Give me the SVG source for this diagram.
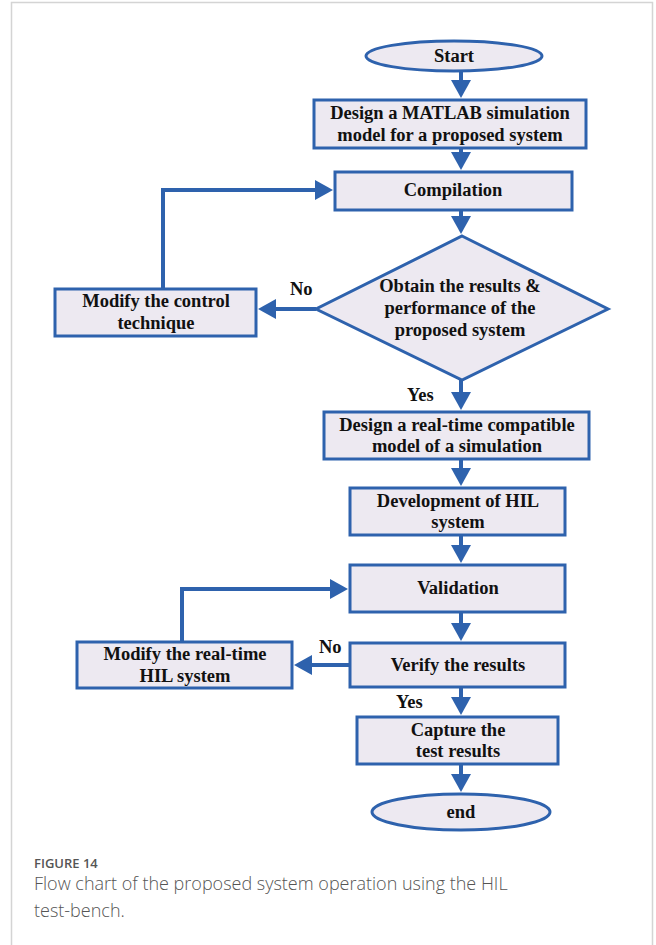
<svg xmlns="http://www.w3.org/2000/svg" width="656" height="945" viewBox="0 0 656 945">
  <style>
    .box { fill: #ede9f1; stroke: #2e62ad; stroke-width: 3; }
    .lbl { font-family: "Liberation Serif", "Times New Roman", serif; font-weight: bold; font-size: 18.5px; fill: #111; text-anchor: middle; }
    .tag { font-family: "Liberation Serif", "Times New Roman", serif; font-weight: bold; font-size: 18.5px; fill: #111; }
    .flow { fill: none; stroke: #2e62ad; stroke-width: 4; }
    .cap { font-family: "Open Sans", "Noto Sans", sans-serif; fill: #555; }
  </style>
  <defs>
    <marker id="head" viewBox="0 0 18 20" refX="2" refY="10" markerWidth="18" markerHeight="20" markerUnits="userSpaceOnUse" orient="auto">
      <path d="M0,0 L18,10 L0,20 z" fill="#2e62ad"/>
    </marker>
  </defs>

  <rect width="656" height="945" fill="#fff"/>
  <!-- figure frame -->
  <path d="M11.5,945 V2.5 H652.5 V945" fill="none" stroke="#d4d4d4" stroke-width="1.5"/>

  <g id="connectors">
    <path class="flow" d="M461,69 V82" marker-end="url(#head)"/>
    <path class="flow" d="M461,148 V154" marker-end="url(#head)"/>
    <path class="flow" d="M461,210 V218" marker-end="url(#head)"/>
    <path class="flow" d="M316,309 H274" marker-end="url(#head)"/>
    <path class="flow" d="M163,289 V190 H317" marker-end="url(#head)"/>
    <path class="flow" d="M461,380 V394" marker-end="url(#head)"/>
    <path class="flow" d="M461,459 V470" marker-end="url(#head)"/>
    <path class="flow" d="M461,535 V547" marker-end="url(#head)"/>
    <path class="flow" d="M461,612 V625" marker-end="url(#head)"/>
    <path class="flow" d="M350,665 H310" marker-end="url(#head)"/>
    <path class="flow" d="M182,642 V589 H332" marker-end="url(#head)"/>
    <path class="flow" d="M461,687 V699" marker-end="url(#head)"/>
    <path class="flow" d="M461,764 V776" marker-end="url(#head)"/>
    <text class="tag" x="290" y="295">No</text>
    <text class="tag" x="407" y="401">Yes</text>
    <text class="tag" x="319" y="653">No</text>
    <text class="tag" x="396" y="708">Yes</text>
  </g>

  <g id="start">
    <ellipse class="box" cx="454" cy="56" rx="88" ry="15"/>
    <text class="lbl" x="454" y="62">Start</text>
  </g>

  <g id="design-matlab">
    <rect class="box" x="314" y="100" width="272" height="48"/>
    <text class="lbl" x="450" y="119">Design a MATLAB simulation</text>
    <text class="lbl" x="450" y="141">model for a proposed system</text>
  </g>

  <g id="compilation">
    <rect class="box" x="335" y="172" width="237" height="38"/>
    <text class="lbl" x="453" y="196">Compilation</text>
  </g>

  <g id="results-check">
    <polygon class="box" points="462,236 608,309 462,380 316,309"/>
    <text class="lbl" x="460" y="292">Obtain the results &amp;</text>
    <text class="lbl" x="460" y="314">performance of the</text>
    <text class="lbl" x="460" y="336">proposed system</text>
  </g>

  <g id="modify-control">
    <rect class="box" x="55" y="289" width="201" height="47"/>
    <text class="lbl" x="156" y="307">Modify the control</text>
    <text class="lbl" x="156" y="329">technique</text>
  </g>

  <g id="design-realtime">
    <rect class="box" x="324" y="412" width="265" height="47"/>
    <text class="lbl" x="457" y="431">Design a real-time compatible</text>
    <text class="lbl" x="457" y="452">model of a simulation</text>
  </g>

  <g id="hil-development">
    <rect class="box" x="350" y="488" width="215" height="47"/>
    <text class="lbl" x="458" y="507">Development of HIL</text>
    <text class="lbl" x="458" y="528">system</text>
  </g>

  <g id="validation">
    <rect class="box" x="350" y="565" width="215" height="47"/>
    <text class="lbl" x="458" y="594">Validation</text>
  </g>

  <g id="modify-hil">
    <rect class="box" x="77" y="642" width="215" height="46"/>
    <text class="lbl" x="185" y="660">Modify the real-time</text>
    <text class="lbl" x="185" y="682">HIL system</text>
  </g>

  <g id="verify">
    <rect class="box" x="350" y="643" width="215" height="44"/>
    <text class="lbl" x="458" y="671">Verify the results</text>
  </g>

  <g id="capture">
    <rect class="box" x="357" y="717" width="201" height="47"/>
    <text class="lbl" x="458" y="736">Capture the</text>
    <text class="lbl" x="458" y="757">test results</text>
  </g>

  <g id="end">
    <ellipse class="box" cx="461" cy="812" rx="89" ry="18"/>
    <text class="lbl" x="461" y="818">end</text>
  </g>

  <g id="caption">
    <text class="cap" x="34" y="868" font-size="13" font-weight="600">FIGURE 14</text>
    <text class="cap" x="34" y="890" font-size="18" font-weight="300">Flow chart of the proposed system operation using the HIL</text>
    <text class="cap" x="34" y="917" font-size="18" font-weight="300">test-bench.</text>
  </g>
</svg>
